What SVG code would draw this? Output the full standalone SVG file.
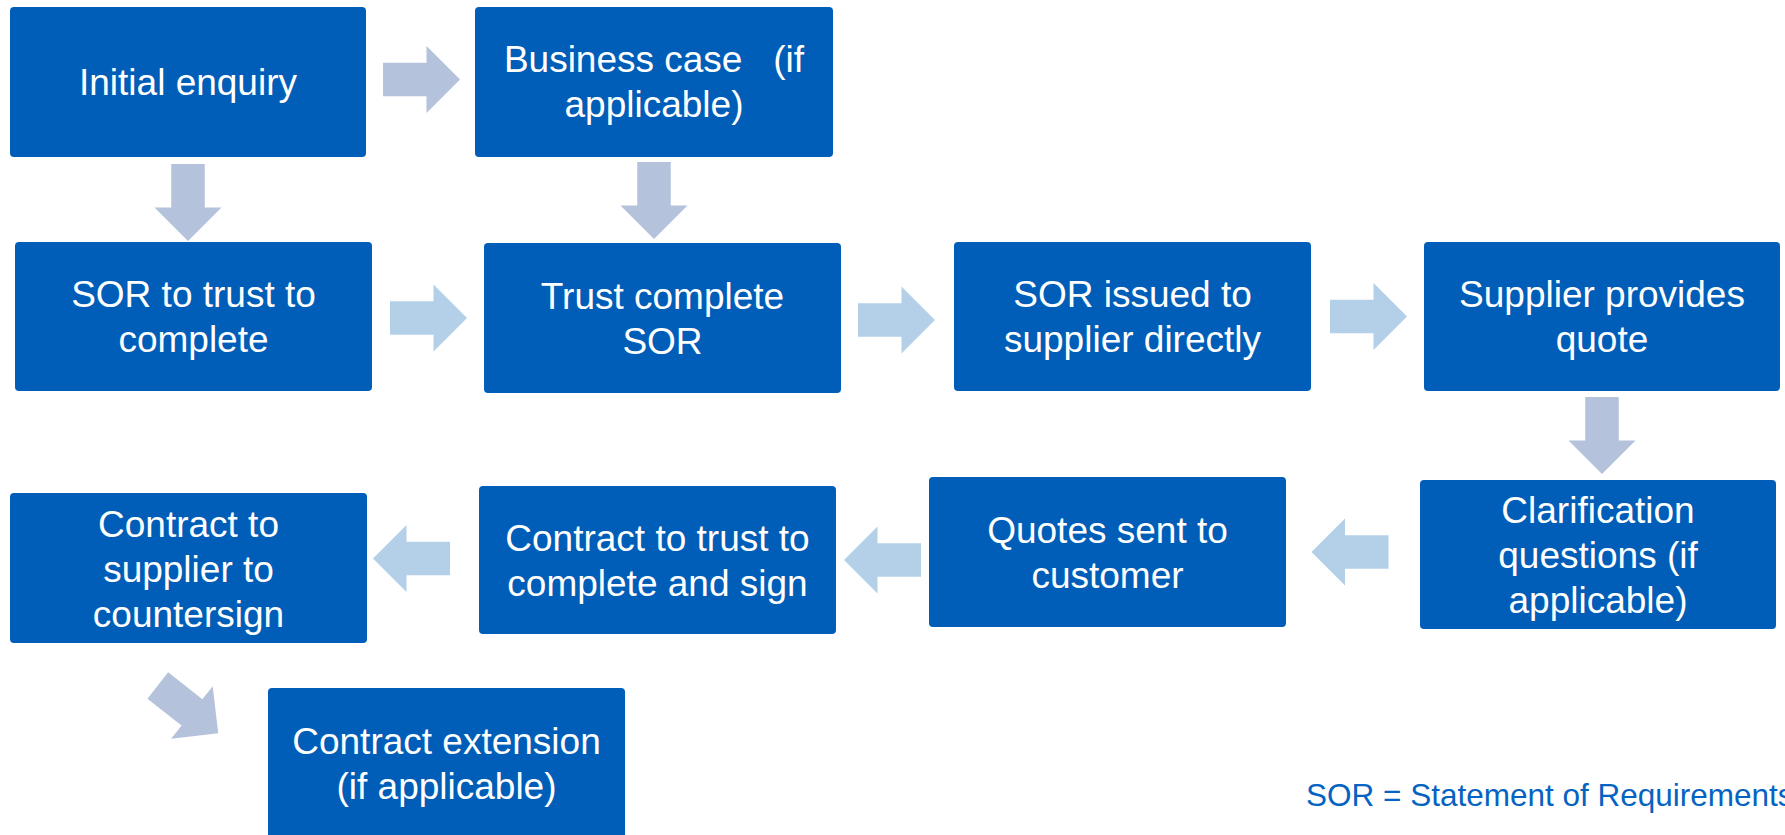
<svg xmlns="http://www.w3.org/2000/svg" width="1785" height="835" viewBox="0 0 1785 835">
<style>
.box{fill:#005eb8}
.t{font-family:"Liberation Sans",Arial,sans-serif;font-size:37px;fill:#ffffff;text-anchor:middle;white-space:pre}
.a1{fill:#b4c2dc}
.a2{fill:#b4cfe8}
.note{font-family:"Liberation Sans",Arial,sans-serif;font-size:31.5px;fill:#0563c1}
</style>
<defs>
<path id="arr" d="M0,-16.75 H43.5 V-33.5 L77,0 L43.5,33.5 V16.75 H0 Z"/>
</defs>
<rect width="1785" height="835" fill="#ffffff"/>
<g id="connectors">
<use href="#arr" class="a1" transform="translate(383,79.5)"/>
<use href="#arr" class="a1" transform="translate(188,164) rotate(90)"/>
<use href="#arr" class="a1" transform="translate(654,162) rotate(90)"/>
<use href="#arr" class="a2" transform="translate(390,318)"/>
<use href="#arr" class="a2" transform="translate(858,320)"/>
<use href="#arr" class="a2" transform="translate(1330,316.5)"/>
<use href="#arr" class="a1" transform="translate(1602,397) rotate(90)"/>
<use href="#arr" class="a2" transform="translate(1388.5,552) rotate(180)"/>
<use href="#arr" class="a2" transform="translate(921,560) rotate(180)"/>
<use href="#arr" class="a2" transform="translate(450,558.5) rotate(180)"/>
<use href="#arr" class="a1" transform="translate(157.8,685.5) rotate(38.3)"/>
</g>
<g id="n1"><rect class="box" x="10" y="7" width="356" height="150" rx="4"/><text class="t" x="188" y="95">Initial enquiry</text></g>
<g id="n2"><rect class="box" x="475" y="7" width="358" height="150" rx="4"/><text class="t" x="654" y="72">Business case   (if</text><text class="t" x="654" y="117">applicable)</text></g>
<g id="n3"><rect class="box" x="15" y="242" width="357" height="149" rx="4"/><text class="t" x="193.5" y="307">SOR to trust to</text><text class="t" x="193.5" y="352">complete</text></g>
<g id="n4"><rect class="box" x="484" y="243" width="357" height="150" rx="4"/><text class="t" x="662.5" y="308.5">Trust complete</text><text class="t" x="662.5" y="353.5">SOR</text></g>
<g id="n5"><rect class="box" x="954" y="242" width="357" height="149" rx="4"/><text class="t" x="1132.5" y="307">SOR issued to</text><text class="t" x="1132.5" y="352">supplier directly</text></g>
<g id="n6"><rect class="box" x="1424" y="242" width="356" height="149" rx="4"/><text class="t" x="1602" y="307">Supplier provides</text><text class="t" x="1602" y="352">quote</text></g>
<g id="n7"><rect class="box" x="1420" y="480" width="356" height="149" rx="4"/><text class="t" x="1598" y="522.5">Clarification</text><text class="t" x="1598" y="567.5">questions (if</text><text class="t" x="1598" y="612.5">applicable)</text></g>
<g id="n8"><rect class="box" x="929" y="477" width="357" height="150" rx="4"/><text class="t" x="1107.5" y="542.5">Quotes sent to</text><text class="t" x="1107.5" y="587.5">customer</text></g>
<g id="n9"><rect class="box" x="479" y="486" width="357" height="148" rx="4"/><text class="t" x="657.5" y="550.5">Contract to trust to</text><text class="t" x="657.5" y="595.5">complete and sign</text></g>
<g id="n10"><rect class="box" x="10" y="493" width="357" height="150" rx="4"/><text class="t" x="188.5" y="536.5">Contract to</text><text class="t" x="188.5" y="581.5">supplier to</text><text class="t" x="188.5" y="626.5">countersign</text></g>
<g id="n11"><rect class="box" x="268" y="688" width="357" height="155" rx="4"/><text class="t" x="446.5" y="753.5">Contract extension</text><text class="t" x="446.5" y="798.5">(if applicable)</text></g>
<text class="note" x="1306" y="806">SOR = Statement of Requirements</text>
</svg>
